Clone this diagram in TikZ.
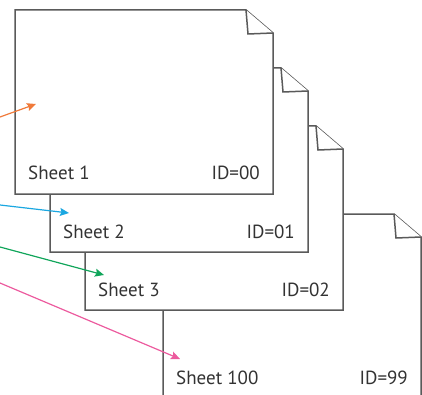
\documentclass[tikz,border=0pt]{standalone}
\usepackage{fontspec}
\setmainfont{PT Sans}
\usetikzlibrary{arrows.meta}

\definecolor{sheetgray}{HTML}{5A5A5A}
\definecolor{textgray}{HTML}{333333}
\definecolor{arroworange}{HTML}{F07A3A}
\definecolor{arrowblue}{HTML}{1AA7E1}
\definecolor{arrowgreen}{HTML}{10A55A}
\definecolor{arrowpink}{HTML}{EC5A9E}

\begin{document}
\begin{tikzpicture}[x=1pt, y=-1pt,
        sheetline/.style={draw=sheetgray, line width=1.5pt, miter limit=4, fill=white},
        sheettext/.style={font=\fontsize{19}{22}\selectfont, text=textgray, inner sep=0pt},
        pointer/.style={line width=1.2pt, -{Stealth[length=9pt, width=8pt, inset=1.5pt]}}
    ]
        % Page size
        \useasboundingbox (0,0) rectangle (422,395);
        % Sheets, from the back to the front
        \foreach \x/\y/\num/\id in {163/214/100/99, 85/126/3/02, 50/68/2/01, 15/10/1/00} {
            \draw[sheetline] (\x,\y) -- ++(231,0) -- ++(27,23) -- ++(0,161)
                -- ++(-258,0) -- cycle;
            % Folded corner
            \draw[sheetline] (\x+231,\y) -- ++(2,24) -- (\x+258,\y+23);
            \node[sheettext, anchor=base west] (Sheet-\num) at (\x+13,\y+170) {Sheet \num};
            \node[sheettext, anchor=base east] (ID-\num) at (\x+245,\y+170) {ID=\id};
        }
        % Pointer ends
        \coordinate (Orange-from) at (0,117);
        \coordinate (Orange-to) at (36,104);
        \coordinate (Blue-from) at (0,205);
        \coordinate (Blue-to) at (69,213);
        \coordinate (Green-from) at (0,247);
        \coordinate (Green-to) at (104,275);
        \coordinate (Pink-from) at (0,283);
        \coordinate (Pink-to) at (180,359);
        % Pointers
        \foreach \c/\col in {Orange/arroworange, Blue/arrowblue, Green/arrowgreen, Pink/arrowpink} {
            \draw[pointer, \col] (\c-from) -- (\c-to);
        }
    \end{tikzpicture}
\end{document}
